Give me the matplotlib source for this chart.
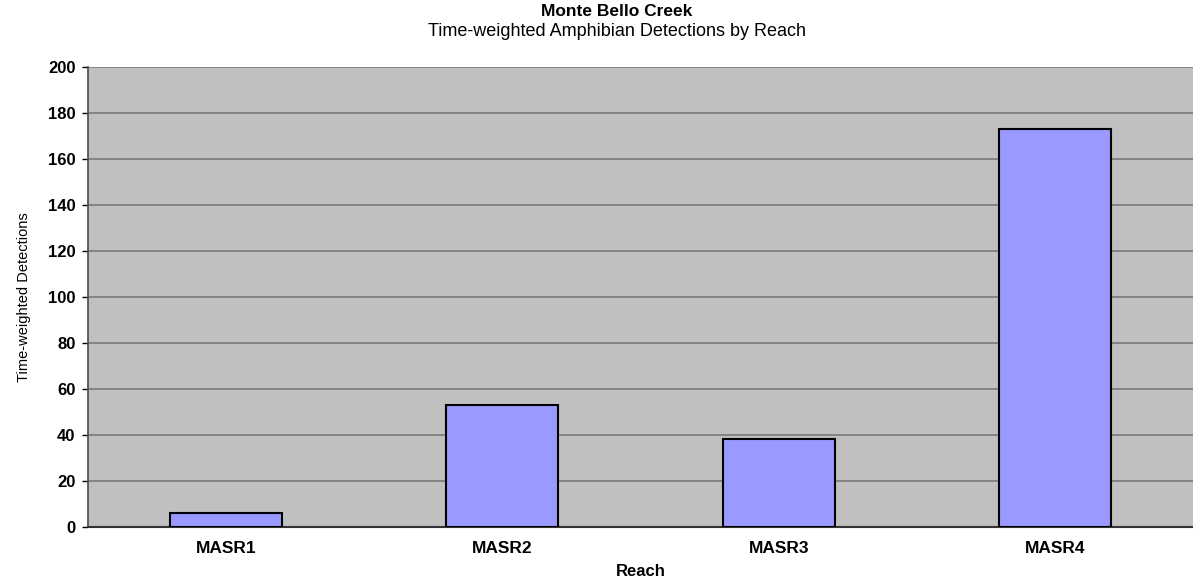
import matplotlib.pyplot as plt
import numpy as np

plt.rcParams['font.family'] = ['Liberation Sans', 'DejaVu Sans']

reaches = ['MASR1', 'MASR2', 'MASR3', 'MASR4']
detections = [6, 53, 38, 173]
y_ticks = [0, 20, 40, 60, 80, 100, 120, 140, 160, 180, 200]

fig = plt.figure(figsize=(11.93, 5.84), dpi=100)
ax = fig.add_axes([88 / 1193, 57.3 / 584, 1 - 88 / 1193, (526.7 - 67) / 584])

x = np.arange(len(reaches))
ax.set_facecolor('#c0c0c0')
ax.bar(x, detections, width=0.405, color='#9999ff', edgecolor='black', linewidth=1.5, zorder=3)

ax.set_xlim(-0.5, len(reaches) - 0.5)
ax.set_ylim(0, 200)
ax.set_yticks(y_ticks)
ax.set_yticklabels([str(v) for v in y_ticks], fontsize=12, fontweight='bold')
ax.set_xticks(x)
ax.set_xticklabels(reaches, fontsize=12.5, fontweight='bold')
ax.tick_params(axis='x', length=0, pad=10)
ax.tick_params(axis='y', length=4, width=1, pad=5)
ax.yaxis.grid(True, color='#7a7a7a', linewidth=1.2, zorder=0)

ax.spines['top'].set_visible(False)
ax.spines['right'].set_visible(False)
ax.spines['left'].set_color('#555555')
ax.spines['bottom'].set_color('#333333')
ax.spines['left'].set_linewidth(1.3)
ax.spines['bottom'].set_linewidth(1.5)

ax.set_xlabel('Reach', fontsize=12, fontweight='bold', labelpad=6)
ax.set_ylabel('Time-weighted Detections', fontsize=10.5, labelpad=12)

fig.text(617 / 1193, 1 - 12 / 584, 'Monte Bello Creek', ha='center', va='center',
         fontsize=12.5, fontweight='bold')
fig.text(617 / 1193, 1 - 31 / 584, 'Time-weighted Amphibian Detections by Reach',
         ha='center', va='center', fontsize=13)

fig.savefig('out.png', dpi=100)
